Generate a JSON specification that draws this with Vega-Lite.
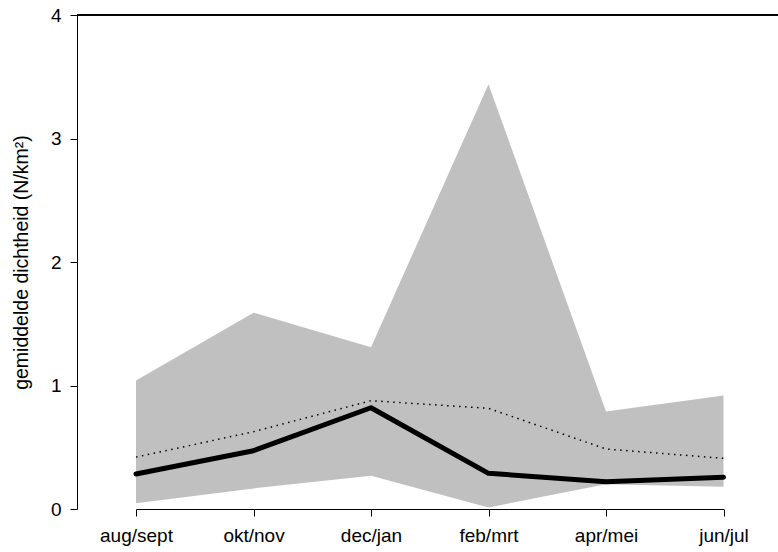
{
  "$schema": "https://vega.github.io/schema/vega-lite/v6.json",
  "width": 701,
  "height": 494,
  "autosize": {"type": "none"},
  "padding": {"left": 77, "top": 15, "right": 0, "bottom": 43},
  "background": "white",
  "data": {
    "values": [
      {"periode": "aug/sept", "onder": 0.046, "boven": 1.04, "gemiddelde": 0.283, "referentie": 0.42},
      {"periode": "okt/nov", "onder": 0.167, "boven": 1.59, "gemiddelde": 0.472, "referentie": 0.626},
      {"periode": "dec/jan", "onder": 0.27, "boven": 1.31, "gemiddelde": 0.82, "referentie": 0.877},
      {"periode": "feb/mrt", "onder": 0.013, "boven": 3.44, "gemiddelde": 0.289, "referentie": 0.815},
      {"periode": "apr/mei", "onder": 0.2, "boven": 0.79, "gemiddelde": 0.221, "referentie": 0.486},
      {"periode": "jun/jul", "onder": 0.18, "boven": 0.92, "gemiddelde": 0.257, "referentie": 0.41}
    ]
  },
  "layer": [
    {
      "mark": {"type": "area", "color": "#c0c0c0", "opacity": 1},
      "encoding": {
        "x": {
          "field": "periode",
          "type": "ordinal",
          "sort": null,
          "scale": {"type": "point", "range": [59, 646.5], "padding": 0},
          "axis": {
            "title": null,
            "grid": false,
            "labelAngle": 0,
            "tickSize": 7,
            "labelPadding": 10,
            "labelFontSize": 19
          }
        },
        "y": {
          "field": "boven",
          "type": "quantitative",
          "scale": {"domain": [0, 4], "nice": false, "zero": true},
          "axis": {
            "title": "gemiddelde dichtheid (N/km²)",
            "values": [0, 1, 2, 3, 4],
            "format": "d",
            "grid": false,
            "tickSize": 7,
            "labelPadding": 9,
            "labelFontSize": 19,
            "titleFontSize": 19.5,
            "titleFontWeight": "normal",
            "titlePadding": 19
          }
        },
        "y2": {"field": "onder"}
      }
    },
    {
      "mark": {"type": "line", "color": "black", "strokeWidth": 1.5, "strokeDash": [1.5, 4.5]},
      "encoding": {
        "x": {"field": "periode", "type": "ordinal", "sort": null},
        "y": {"field": "referentie", "type": "quantitative"}
      }
    },
    {
      "mark": {"type": "line", "color": "black", "strokeWidth": 5, "strokeCap": "round", "strokeJoin": "round"},
      "encoding": {
        "x": {"field": "periode", "type": "ordinal", "sort": null},
        "y": {"field": "gemiddelde", "type": "quantitative"}
      }
    },
    {
      "mark": {"type": "rule", "color": "black", "strokeWidth": 1},
      "encoding": {"y": {"datum": 4, "type": "quantitative"}}
    }
  ],
  "config": {
    "view": {"stroke": null},
    "font": "Liberation Sans",
    "axis": {
      "labelFont": "Liberation Sans",
      "titleFont": "Liberation Sans",
      "labelColor": "black",
      "titleColor": "black",
      "domainColor": "black",
      "tickColor": "black",
      "domainWidth": 1,
      "tickWidth": 1
    }
  }
}
